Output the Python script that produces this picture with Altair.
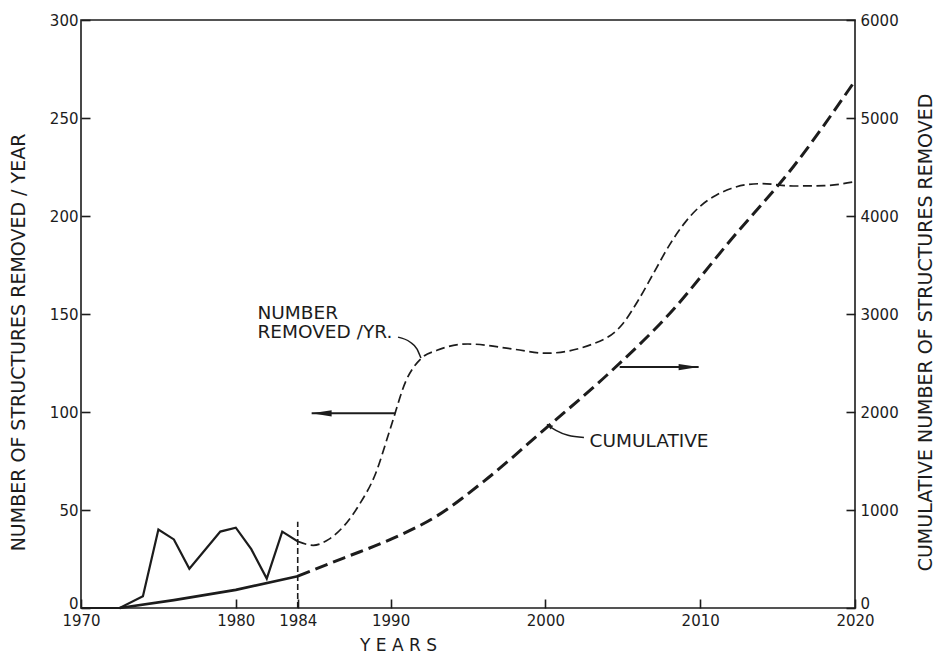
import altair as alt
import pandas as pd

# Structures removed per year, recorded period
rec_years = [1970, 1972.5, 1974, 1975, 1976, 1977, 1979, 1980, 1981, 1982, 1983, 1984]
rec_removed = [0, 0, 6, 40, 35, 20, 39, 41, 30, 15, 39, 34]

# Structures removed per year, projected
proj_years = [1984, 1985, 1986, 1987, 1988, 1989, 1990, 1991, 1992, 1993, 1995, 1998,
              2000, 2003, 2005, 2006, 2007, 2008, 2009, 2010, 2011, 2012, 2013, 2014,
              2016, 2018, 2020]
proj_removed = [34, 32, 35, 42, 53, 68, 92, 116, 127.5, 131.5, 134.7, 132,
                130, 134.5, 145, 157, 171, 185, 196.5, 205, 210.5, 214, 216, 216.5,
                215.3, 215.5, 217.5]

# Cumulative number of structures removed
cum_rec_years = [1972.5, 1976, 1980, 1984]
cum_rec_total = [0, 80, 185, 325]
cum_proj_years = [1984, 1987, 1990, 1993, 1996, 2000, 2004, 2008, 2012, 2016, 2020]
cum_proj_total = [325, 512, 700, 940, 1290, 1830, 2380, 3000, 3760, 4500, 5380]

# Axis ticks
year_ticks = [1970, 1980, 1984, 1990, 2000, 2010, 2020]
left_ticks = [0, 50, 100, 150, 200, 250, 300]
right_ticks = [0, 1000, 2000, 3000, 4000, 5000, 6000]

# Marker line at the end of the recorded period
marker_year = [1984]
marker_top = [44]

# Direction arrows: which axis each curve is read against
left_arrow_from = [1990.3]
left_arrow_to = [1984.9]
left_arrow_level = [99.3]
right_arrow_from = [2004.8]
right_arrow_to = [2009.9]
right_arrow_level = [122.9]

# Curve labels and their leader lines
label_texts = ["NUMBER", "REMOVED /YR.", "CUMULATIVE"]
label_years = [1981.4, 1981.4, 2002.85]
label_levels = [147.4, 137.7, 81.9]
leader1_years = [1990.48, 1991.25, 1991.71, 1991.96]
leader1_levels = [138.2, 135.7, 132.1, 127.5]
leader2_years = [2000.1, 2000.68, 2001.46, 2002.49]
leader2_levels = [93.7, 90.6, 88.1, 87.0]

INK = "#1c1c1c"
FONT = "DejaVu Sans"

x_scale = alt.Scale(domain=[1970, 2020], nice=False, zero=False)
yl_scale = alt.Scale(domain=[0, 300], nice=False)
yr_scale = alt.Scale(domain=[0, 6000], nice=False)

# the zero label sits above its tick so it clears the year labels
zero_baseline = {"condition": {"test": "datum.value == 0", "value": "alphabetic"}, "value": "middle"}

x_axis = alt.Axis(values=year_ticks, format="d", title="Y E A R S", orient="bottom",
                  offset=-9, tickSize=9, domain=False, grid=False, labelPadding=5,
                  labelFlush=False, labelOverlap=False, titleX=317, titleY=46,
                  titleBaseline="middle", titleAlign="center", titleFontSize=17)
yl_axis = alt.Axis(values=left_ticks, title="NUMBER OF STRUCTURES REMOVED / YEAR",
                   orient="left", offset=-9, tickSize=9, domain=False, grid=False,
                   labelPadding=3, labelFlush=False, labelOverlap=False,
                   labelBaseline=zero_baseline,
                   titleX=-72, titleY=322, titleAngle=270, titleBaseline="middle",
                   titleAlign="center")
yr_axis = alt.Axis(values=right_ticks, format="d",
                   title="CUMULATIVE NUMBER OF STRUCTURES REMOVED",
                   orient="right", offset=-9, tickSize=9, domain=False, grid=False,
                   labelPadding=5, labelFlush=False, labelOverlap=False,
                   labelBaseline=zero_baseline,
                   titleX=79, titleY=312, titleAngle=270, titleBaseline="middle",
                   titleAlign="center")


def X():
    return alt.X("year:Q", scale=x_scale, axis=x_axis)


def YL():
    return alt.Y("removed:Q", scale=yl_scale, axis=yl_axis)


def YR():
    return alt.Y("total:Q", scale=yr_scale, axis=yr_axis)


rec = pd.DataFrame({"year": rec_years, "removed": rec_removed})
proj = pd.DataFrame({"year": proj_years, "removed": proj_removed})
cum_rec = pd.DataFrame({"year": cum_rec_years, "total": cum_rec_total})
cum_proj = pd.DataFrame({"year": cum_proj_years, "total": cum_proj_total})

recorded_line = alt.Chart(rec).mark_line(color=INK, strokeWidth=2.2).encode(x=X(), y=YL())
projected_line = alt.Chart(proj).mark_line(
    color=INK, strokeWidth=1.7, strokeDash=[9, 4.5], interpolate="monotone"
).encode(x=X(), y=YL())

marker = alt.Chart(pd.DataFrame({"year": marker_year, "removed": [0], "top": marker_top})).mark_rule(
    color=INK, strokeWidth=1.6, strokeDash=[6, 3]
).encode(x=X(), y=YL(), y2="top:Q")

# arrowhead outlines with the tip at the symbol origin
HEAD_LEFT = "M 0 0 L 2 -0.32 L 2 0.32 Z"
HEAD_RIGHT = "M 0 0 L -2 -0.32 L -2 0.32 Z"
HEAD_SMALL = "M 0 0 L 2 -0.75 L 2 0.75 Z"

left_arrow_df = pd.DataFrame({"year": left_arrow_from, "end": left_arrow_to, "removed": left_arrow_level})
left_arrow_shaft = alt.Chart(left_arrow_df).mark_rule(color=INK, strokeWidth=2).encode(
    x=X(), x2="end:Q", y=YL())
left_arrow_head = alt.Chart(
    pd.DataFrame({"year": left_arrow_to, "removed": left_arrow_level})
).mark_point(shape=HEAD_LEFT, filled=True, size=400, color=INK, opacity=1).encode(x=X(), y=YL())

right_arrow_df = pd.DataFrame({"year": right_arrow_from, "end": right_arrow_to, "removed": right_arrow_level})
right_arrow_shaft = alt.Chart(right_arrow_df).mark_rule(color=INK, strokeWidth=2).encode(
    x=X(), x2="end:Q", y=YL())
right_arrow_head = alt.Chart(
    pd.DataFrame({"year": right_arrow_to, "removed": right_arrow_level})
).mark_point(shape=HEAD_RIGHT, filled=True, size=400, color=INK, opacity=1).encode(x=X(), y=YL())

labels = alt.Chart(
    pd.DataFrame({"year": label_years, "removed": label_levels, "label": label_texts})
).mark_text(align="left", baseline="alphabetic", font=FONT, fontSize=18.5, color=INK).encode(
    x=X(), y=YL(), text="label:N")

leader1 = alt.Chart(pd.DataFrame({"year": leader1_years, "removed": leader1_levels})).mark_line(
    color=INK, strokeWidth=1.5, interpolate="monotone").encode(x=X(), y=YL())
leader2 = alt.Chart(pd.DataFrame({"year": leader2_years, "removed": leader2_levels})).mark_line(
    color=INK, strokeWidth=1.5, interpolate="monotone").encode(x=X(), y=YL())
leader2_head = alt.Chart(
    pd.DataFrame({"year": leader2_years[:1], "removed": leader2_levels[:1]})
).mark_point(shape=HEAD_SMALL, filled=True, size=36, color=INK, opacity=1, angle=34).encode(
    x=X(), y=YL())

cum_recorded = alt.Chart(cum_rec).mark_line(color=INK, strokeWidth=2.6).encode(x=X(), y=YR())
cum_projected = alt.Chart(cum_proj).mark_line(
    color=INK, strokeWidth=3, strokeDash=[13, 6], interpolate="monotone"
).encode(x=X(), y=YR())

left_layer = alt.layer(
    recorded_line, projected_line, marker, left_arrow_shaft, left_arrow_head,
    right_arrow_shaft, right_arrow_head, leader1, leader2, leader2_head, labels
)
right_layer = alt.layer(cum_recorded, cum_projected)

chart = alt.layer(left_layer, right_layer).resolve_scale(y="independent").properties(
    width=774,
    height=588,
    autosize=alt.AutoSizeParams(type="none"),
    padding={"left": 81, "top": 20, "right": 80, "bottom": 48},
    background="white",
).configure_view(
    stroke=INK, strokeWidth=1.6
).configure_axis(
    labelFont=FONT, labelFontSize=15, labelColor=INK,
    titleFont=FONT, titleFontSize=19, titleFontWeight="normal", titleColor=INK,
    tickColor=INK, tickWidth=1.6,
)

chart.save("out.html", embed_options={"renderer": "svg", "actions": False})
